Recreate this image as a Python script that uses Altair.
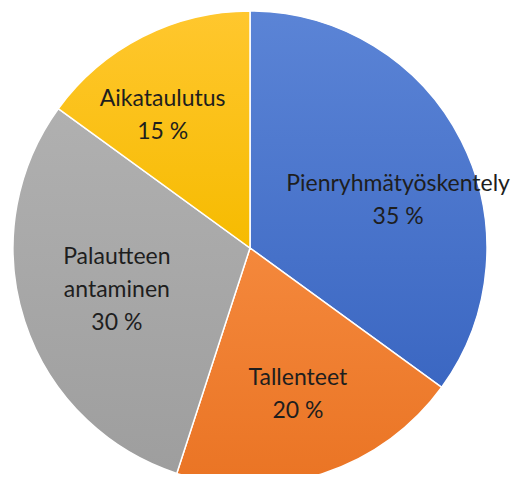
import altair as alt
import pandas as pd

categories = ["Pienryhmätyöskentely", "Tallenteet", "Palautteen antaminen", "Aikataulutus"]
label_names = ["Pienryhmätyöskentely", "Tallenteet", "Palautteen\nantaminen", "Aikataulutus"]
values = [35, 20, 30, 15]
colors_top = ["#5b84d6", "#f4883c", "#b0b0b0", "#ffc72e"]
colors_bottom = ["#3b67c2", "#ea7424", "#9e9e9e", "#f6bb00"]

df = pd.DataFrame({
    "category": categories,
    "value": values,
    "order": list(range(len(categories))),
    "label": [f"{n}\n{v} %" for n, v in zip(label_names, values)],
})
total = sum(values)

W, H = 509, 466
cx, cy = 242, 240
R = 237
LH = 33

base = alt.Chart(df).transform_window(
    end="sum(value)", sort=[alt.SortField("order")], frame=[None, 0]
).transform_calculate(
    start="datum.end - datum.value",
    mid="datum.end - datum.value / 2",
)

theta_scale = alt.Scale(domain=[0, total], range=[0, 6.283185307179586])

layers = []
for i, cat in enumerate(categories):
    grad = alt.Gradient(
        gradient="linear", x1=0, y1=0, x2=0, y2=1,
        stops=[alt.GradientStop(color=colors_top[i], offset=0),
               alt.GradientStop(color=colors_bottom[i], offset=1)],
    )
    layers.append(
        base.transform_filter(alt.datum.category == cat).mark_arc(
            outerRadius=R, stroke="white", strokeWidth=1.5, color=grad
        ).encode(
            theta=alt.Theta("start:Q", scale=theta_scale),
            theta2="end:Q",
            x=alt.value(cx), y=alt.value(cy),
        )
    )

# label radius and (dx, dy) offsets for each slice label
label_style = {
    "Pienryhmätyöskentely": (155, 10, 6),
    "Tallenteet": (155, 0, -17),
    "Palautteen antaminen": (140, 0, -34),
    "Aikataulutus": (155, -17, -11),
}
for cat in categories:
    r, dx, dy = label_style[cat]
    layers.append(
        base.transform_filter(alt.datum.category == cat).mark_text(
            radius=r, dx=dx, dy=dy, font="Lato", fontSize=23, color="#1e1e1e",
            lineBreak="\n", lineHeight=LH, align="center", baseline="middle",
        ).encode(
            theta=alt.Theta("mid:Q", scale=theta_scale),
            text="label:N",
            x=alt.value(cx), y=alt.value(cy),
        )
    )

chart = alt.layer(*layers).properties(
    width=W, height=H, padding=0, autosize=alt.AutoSizeParams(type="none"),
).configure_view(stroke=None)

chart.save("out.html", embed_options={"renderer": "svg", "actions": False})
